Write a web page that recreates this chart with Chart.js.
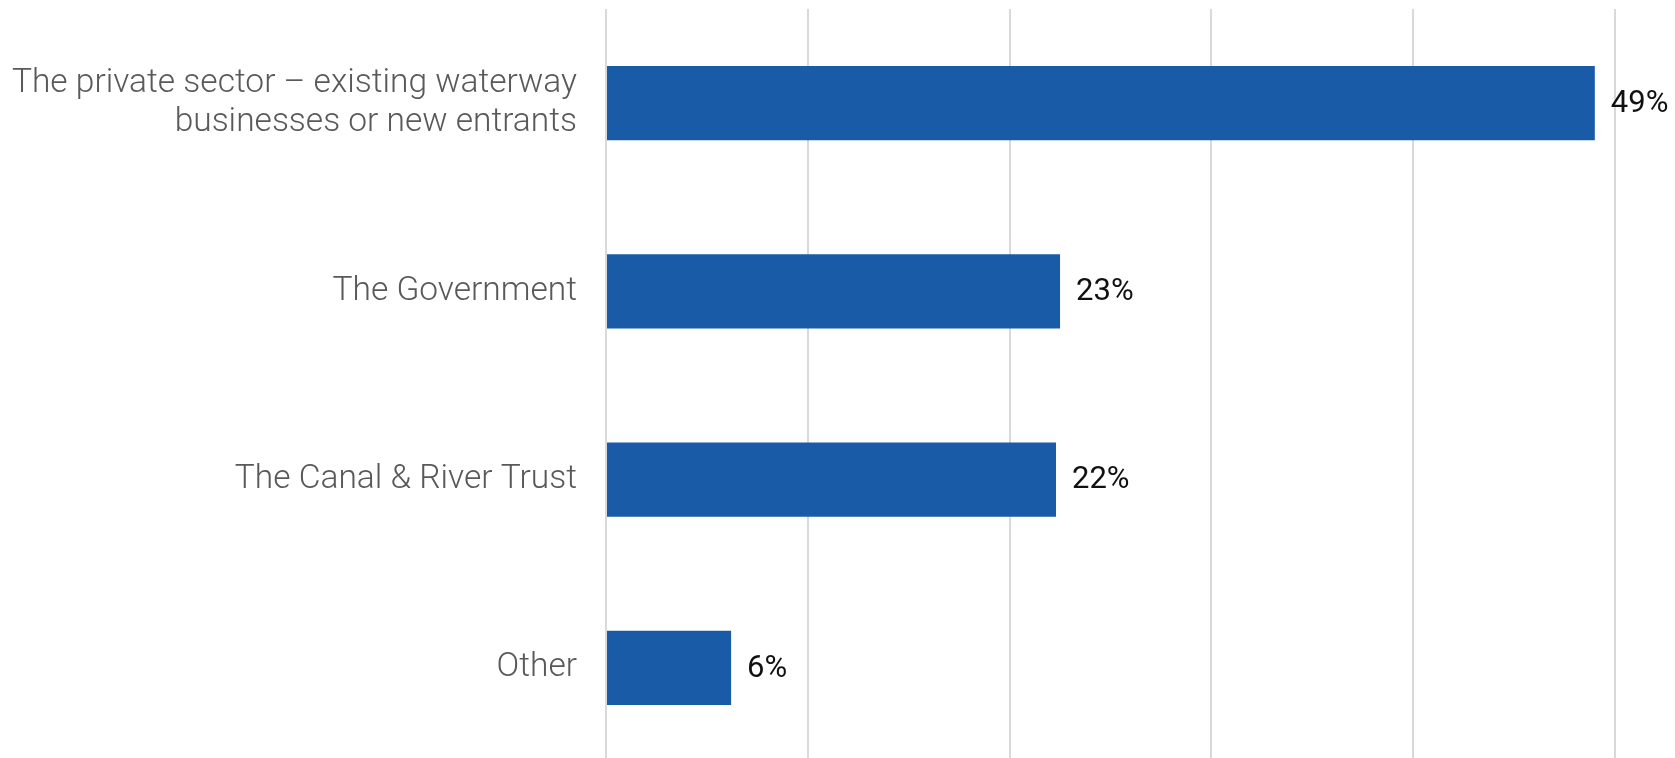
<!DOCTYPE html>
<html>
<head>
<meta charset="utf-8">
<script src="https://cdn.jsdelivr.net/npm/chart.js@4"></script>
<style>
  html, body { margin: 0; padding: 0; background: #fff; overflow: hidden; }
  canvas { display: block; }
</style>
</head>
<body>
<canvas id="chart" width="1675" height="762"></canvas>
<script>
// chart values
const categories = [
    ['The private sector \u2013 existing waterway', 'businesses or new entrants'],
    'The Government',
    'The Canal & River Trust',
    'Other'
];
const shares = [49, 22.5, 22.3, 6.2];
const shareLabels = ['49%', '23%', '22%', '6%'];
const axisTicks = [0, 10, 20, 30, 40, 50];

// draws "49%" etc. just right of each bar
const valueLabels = {
    id: 'valueLabels',
    afterDatasetsDraw(chart) {
        const ctx = chart.ctx;
        const meta = chart.getDatasetMeta(0);
        ctx.save();
        ctx.font = '31px Roboto';
        ctx.fillStyle = '#111';
        ctx.textAlign = 'left';
        ctx.textBaseline = 'middle';
        meta.data.forEach((bar, i) => {
            ctx.fillText(shareLabels[i], bar.x + 16, bar.y + 1);
        });
        ctx.restore();
    }
};

let ctx = document.getElementById('chart');

let chart = new Chart(ctx, {
    type: 'bar',
    data: {
        labels: categories,
        datasets: [{
            data: shares,
            backgroundColor: '#1a5ba8',
            barPercentage: 0.395,
            categoryPercentage: 1
        }]
    },
    options: {
        indexAxis: 'y',
        responsive: false,
        animation: false,
        layout: {
            padding: { top: 9, right: 60, left: 0, bottom: 0 }
        },
        plugins: {
            legend: { display: false },
            tooltip: { enabled: false }
        },
        scales: {
            x: {
                min: 0,
                max: 50,
                afterBuildTicks(scale) {
                    scale.ticks = axisTicks.map(v => ({ value: v }));
                },
                afterFit(scale) { scale.height = 0; },
                ticks: { display: false },
                border: { display: false },
                grid: { color: '#d9d9d9', lineWidth: 2, drawTicks: false }
            },
            y: {
                afterFit(scale) {
                    scale.width = 606;
                    scale.paddingTop = 0;
                    scale.paddingBottom = 0;
                },
                border: { display: false },
                grid: { display: false, drawTicks: false },
                ticks: {
                    color: '#595959',
                    padding: 29,
                    font: { family: 'Roboto', size: 33.5, weight: 300, lineHeight: 1.18 }
                }
            }
        }
    },
    plugins: [valueLabels]
});
</script>
</body>
</html>
